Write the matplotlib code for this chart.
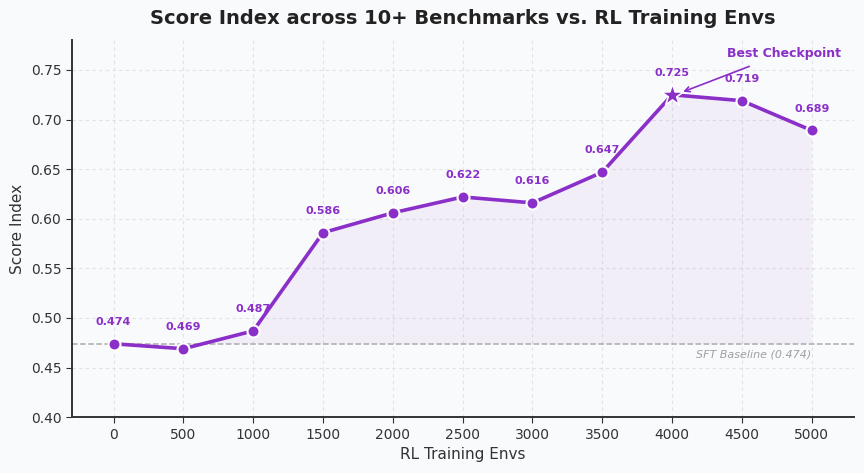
import matplotlib.pyplot as plt
import numpy as np

# data
envs = [0, 500, 1000, 1500, 2000, 2500, 3000, 3500, 4000, 4500, 5000]
scores = [0.474, 0.469, 0.487, 0.586, 0.606, 0.622, 0.616, 0.647, 0.725, 0.719, 0.689]
baseline = 0.474
best_idx = 8

purple = "#8a2fc8"
bg = "#f9fafc"

fig, ax = plt.subplots(figsize=(8.64, 4.73), dpi=100)
fig.patch.set_facecolor(bg)
ax.set_facecolor(bg)
fig.subplots_adjust(left=0.083, right=0.988, top=0.915, bottom=0.118)

x = np.array(envs)
y = np.array(scores)

ax.fill_between(x, baseline, y, where=y >= baseline, interpolate=True,
                color=purple, alpha=0.06, linewidth=0)
ax.axhline(baseline, color="#aaaaaa", linestyle="--", linewidth=1.1, zorder=1)
ax.text(5000, baseline - 0.006, f"SFT Baseline ({baseline})", ha="right", va="top",
        fontsize=8, style="italic", color="#a0a0a0")

ax.plot(x, y, color=purple, linewidth=2.6, zorder=3)
mask = np.arange(len(x)) != best_idx
ax.scatter(x[mask], y[mask], s=75, color=purple, edgecolor="white",
           linewidth=1.5, zorder=4)
ax.scatter([x[best_idx]], [y[best_idx]], s=280, marker="*", color=purple,
           edgecolor="white", linewidth=1.2, zorder=5)

for xi, yi in zip(x, y):
    ax.annotate(f"{yi:.3f}", (xi, yi), xytext=(0, 12), textcoords="offset points",
                ha="center", va="bottom", fontsize=8, fontweight="bold", color=purple)

ax.annotate("Best Checkpoint", xy=(x[best_idx] + 60, y[best_idx] + 0.002),
            xytext=(4800, 0.767), ha="center", va="center",
            fontsize=9, fontweight="bold", color=purple,
            arrowprops=dict(arrowstyle="->", color=purple, lw=1.2,
                            shrinkA=8, shrinkB=2))

ax.set_xlim(-300, 5300)
ax.set_ylim(0.40, 0.78)
ax.set_xticks(envs)
ax.set_yticks(np.arange(0.40, 0.751, 0.05))
ax.yaxis.set_major_formatter(plt.FormatStrFormatter("%.2f"))
ax.tick_params(labelsize=10, colors="#333333", length=4)

ax.grid(True, linestyle=(0, (3, 3)), color="#e2e2e6", linewidth=0.8)
ax.set_axisbelow(True)
for s in ["top", "right"]:
    ax.spines[s].set_visible(False)
for s in ["left", "bottom"]:
    ax.spines[s].set_color("#333333")
    ax.spines[s].set_linewidth(1.4)

ax.set_xlabel("RL Training Envs", fontsize=11, color="#333333")
ax.set_ylabel("Score Index", fontsize=11, color="#333333")
ax.set_title("Score Index across 10+ Benchmarks vs. RL Training Envs",
             fontsize=14, fontweight="bold", color="#222222", pad=12)

fig.savefig("out.png", dpi=100, facecolor=bg)
